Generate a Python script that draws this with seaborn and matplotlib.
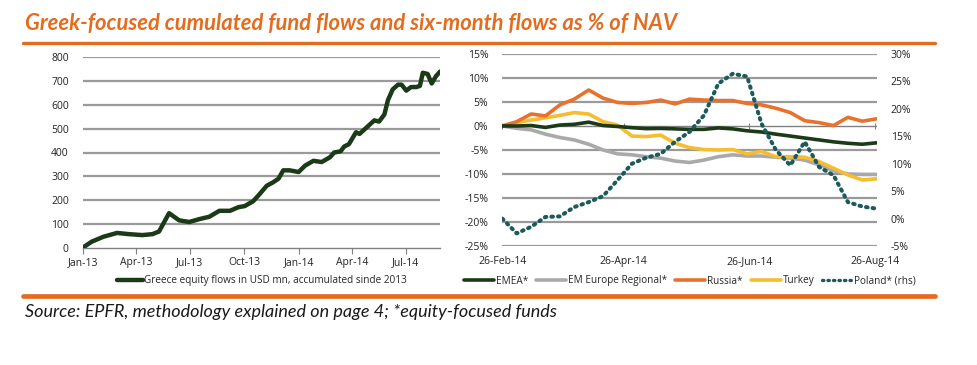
import numpy as np
import pandas as pd
import matplotlib
matplotlib.use("Agg")
import matplotlib.pyplot as plt
import matplotlib.dates as mdates
from matplotlib.lines import Line2D
import seaborn as sns

# ---------------- data ----------------
greece_dates = ["2013-01-01", "2013-01-16", "2013-02-05", "2013-02-28", "2013-03-20", "2013-04-12",
                "2013-04-29", "2013-05-10", "2013-05-27", "2013-06-13", "2013-06-30", "2013-07-17",
                "2013-08-03", "2013-08-20", "2013-09-07", "2013-09-21", "2013-10-02", "2013-10-16",
                "2013-10-27", "2013-11-08", "2013-11-19", "2013-11-28", "2013-12-06", "2013-12-17",
                "2014-01-01", "2014-01-12", "2014-01-26", "2014-02-09", "2014-02-23", "2014-03-02",
                "2014-03-13", "2014-03-19", "2014-03-27", "2014-04-08", "2014-04-14", "2014-04-28",
                "2014-05-09", "2014-05-17", "2014-05-26", "2014-06-01", "2014-06-09", "2014-06-18",
                "2014-06-24", "2014-07-02", "2014-07-10", "2014-07-19", "2014-07-25", "2014-07-30",
                "2014-08-07", "2014-08-14", "2014-08-21", "2014-08-28"]
greece_flows = [0, 25, 46, 62, 57, 53, 57, 68, 145, 115, 108, 120,
                130, 155, 155, 170, 175, 195, 225, 260, 275, 290, 325, 325,
                318, 345, 365, 360, 380, 400, 405, 425, 435, 485, 478, 510,
                535, 530, 560, 620, 665, 685, 685, 660, 675, 675, 680, 735,
                730, 690, 720, 740]

week_dates = pd.date_range("2014-02-26", periods=27, freq="7D")
emea = [0, 0, 0.1, -0.3, 0.2, 0.35, 0.8, 0.1, -0.1, -0.35, -0.55, -0.5, -0.6, -0.7,
        -0.7, -0.4, -0.6, -1.0, -1.25, -1.7, -2.1, -2.5, -2.9, -3.3, -3.6, -3.8, -3.5]
em_europe = [0, -0.5, -0.8, -1.7, -2.4, -2.9, -3.8, -5.0, -5.8, -6.0, -6.4, -6.7, -7.3, -7.6,
             -7.1, -6.4, -6.0, -6.25, -6.25, -6.5, -6.7, -7.1, -8.1, -9.3, -10.0, -10.1, -10.1]
russia = [0, 0.9, 2.5, 2.1, 4.4, 5.6, 7.5, 5.8, 4.9, 4.7, 4.9, 5.4, 4.6, 5.6,
          5.4, 5.3, 5.3, 4.7, 4.4, 3.7, 2.8, 1.1, 0.7, 0.1, 1.8, 1.0, 1.5]
turkey = [0, 0.7, 1.25, 1.7, 2.2, 2.8, 2.5, 0.9, 0.2, -2.1, -2.2, -1.9, -3.6, -4.5,
          -4.9, -5.0, -4.9, -5.8, -5.3, -6.4, -6.4, -6.5, -7.4, -8.8, -10.2, -11.25, -11.0]
poland = [0, -2.7, -1.5, 0.3, 0.4, 2.1, 3.0, 4.1, 7.0, 10.0, 11.1, 11.8, 14.0, 15.8,
          18.8, 24.6, 26.4, 25.9, 17.3, 12.5, 9.7, 14.0, 9.4, 7.9, 3.0, 2.2, 1.8]

left_ticks = ["2013-01-01", "2013-04-01", "2013-07-01", "2013-10-01",
              "2014-01-01", "2014-04-01", "2014-07-01"]
right_ticks = ["2014-02-26", "2014-04-26", "2014-06-26", "2014-08-26"]

title = "Greek-focused cumulated fund flows and six-month flows as % of NAV"
source = "Source: EPFR, methodology explained on page 4; *equity-focused funds"

# ---------------- style ----------------
sns.set_theme(style="white")
plt.rcParams["font.family"] = ["Open Sans", "DejaVu Sans"]

W, H = 978, 365
fig = plt.figure(figsize=(W / 100, H / 100), dpi=100)

ORANGE = "#E46C1E"
GRID = "#9a9a9a"
C_EMEA = "#1B3A17"
C_EME = "#A9A9A9"
C_RUS = "#E8722D"
C_TUR = "#F6BD2E"
C_POL = "#1D5A5A"
TS = 7.5

def fx(px):
    return px / W

def fy(py):
    return 1 - py / H

# ---------------- left chart ----------------
axL = fig.add_axes([fx(82.7), fy(247.7), fx(440 - 82.7), (247.7 - 57.3) / H])
dfL = pd.DataFrame({"date": pd.to_datetime(greece_dates), "flows": greece_flows})
axL.set_ylim(0, 800)
axL.set_xlim(pd.Timestamp("2013-01-01"), pd.Timestamp("2014-08-28"))
axL.set_yticks(range(0, 801, 100))
for v in range(100, 801, 100):
    axL.axhline(v, color=GRID, lw=1.6, zorder=1)
sns.lineplot(data=dfL, x="date", y="flows", ax=axL, color=C_EMEA, lw=3.2, zorder=3)
axL.set_xticks(pd.to_datetime(left_ticks))
axL.xaxis.set_major_formatter(mdates.DateFormatter("%b-%y"))
for s in ["top", "right", "left"]:
    axL.spines[s].set_visible(False)
axL.spines["bottom"].set_color("#808080")
axL.spines["bottom"].set_linewidth(1.0)
axL.tick_params(axis="x", length=4, width=0.8, color="#808080", direction="out",
                labelsize=TS, pad=3, bottom=True)
axL.tick_params(axis="y", length=0, labelsize=TS, pad=10)
axL.set_xlabel("")
axL.set_ylabel("")
for lab in axL.get_xticklabels() + axL.get_yticklabels():
    lab.set_color("#222222")

fig.legend(handles=[Line2D([], [], color=C_EMEA, lw=3.2)],
           labels=["Greece equity flows in USD mn, accumulated sinde 2013"],
           loc="center", bbox_to_anchor=(fx(262), fy(281)), frameon=False,
           fontsize=7.2, handlelength=2.6, handletextpad=0.1)

# ---------------- right chart ----------------
axR = fig.add_axes([fx(502.3), fy(246), fx(876.7 - 502.3), (246 - 54) / H])
dfR = pd.DataFrame({"date": week_dates, "EMEA*": emea, "EM Europe Regional*": em_europe,
                    "Russia*": russia, "Turkey": turkey, "Poland* (rhs)": poland})
axR.set_ylim(-25, 15)
axR.set_xlim(pd.Timestamp("2014-02-26"), pd.Timestamp("2014-08-27"))
axR.set_yticks(range(-25, 16, 5))
for v in range(-25, 16, 5):
    if v != 0:
        axR.axhline(v, color=GRID, lw=1.6, zorder=1)
axR.axhline(0, color="#808080", lw=1.0, zorder=1)
tick_dates = pd.to_datetime(right_ticks)
axR.plot(tick_dates, [0] * len(tick_dates), ls="none", marker="|", ms=5,
         mew=0.8, color="#808080", zorder=1)

sns.lineplot(data=dfR, x="date", y="EM Europe Regional*", ax=axR, color=C_EME, lw=2.6, zorder=3)
sns.lineplot(data=dfR, x="date", y="Turkey", ax=axR, color=C_TUR, lw=2.6, zorder=4)
sns.lineplot(data=dfR, x="date", y="Russia*", ax=axR, color=C_RUS, lw=2.6, zorder=4)
sns.lineplot(data=dfR, x="date", y="EMEA*", ax=axR, color=C_EMEA, lw=2.6, zorder=5)
axR.set_xticks(tick_dates)
axR.xaxis.set_major_formatter(mdates.DateFormatter("%d-%b-%y"))
axR.yaxis.set_major_formatter(matplotlib.ticker.FuncFormatter(lambda v, p: f"{v:.0f}%"))
for s in ["top", "right", "left", "bottom"]:
    axR.spines[s].set_visible(False)
axR.tick_params(axis="x", length=0, labelsize=TS, pad=7)
axR.tick_params(axis="y", length=0, labelsize=TS, pad=10)
axR.set_xlabel("")
axR.set_ylabel("")

axR2 = axR.twinx()
axR2.set_ylim(-5, 30)
axR2.set_yticks(range(-5, 31, 5))
sns.lineplot(data=dfR, x="date", y="Poland* (rhs)", ax=axR2, color=C_POL, lw=2.9,
             ls=(0, (0.4, 1.25)), zorder=6)
axR2.lines[-1].set_dash_capstyle("round")
axR2.yaxis.set_major_formatter(matplotlib.ticker.FuncFormatter(lambda v, p: f"{v:.0f}%"))
for s in ["top", "right", "left", "bottom"]:
    axR2.spines[s].set_visible(False)
axR2.tick_params(axis="y", length=0, labelsize=TS, pad=10, right=True, labelright=True)
axR2.set_ylabel("")
for lab in axR.get_xticklabels() + axR.get_yticklabels() + axR2.get_yticklabels():
    lab.set_color("#222222")

handles = [Line2D([], [], color=C_EMEA, lw=2.6),
           Line2D([], [], color=C_EME, lw=2.6),
           Line2D([], [], color=C_RUS, lw=2.6),
           Line2D([], [], color=C_TUR, lw=2.6),
           Line2D([], [], color=C_POL, lw=2.4, ls=(0, (0.4, 1.25)), dash_capstyle="round")]
fig.legend(handles=handles,
           labels=["EMEA*", "EM Europe Regional*", "Russia*", "Turkey", "Poland* (rhs)"],
           loc="center", bbox_to_anchor=(fx(690), fy(281)), frameon=False, ncol=5,
           fontsize=7.2, handlelength=3.0, handletextpad=0.2, columnspacing=0.8)

# ---------------- title, rules, source ----------------
fig.text(fx(25), fy(30), title, color=ORANGE, fontsize=15.8, fontweight="bold",
         fontstyle="italic", family=["Lato", "DejaVu Sans"], ha="left", va="baseline")
fig.add_artist(Line2D([fx(23), fx(935)], [fy(42.5), fy(42.5)], color=ORANGE, lw=2.4))
fig.add_artist(Line2D([fx(23), fx(935)], [fy(295.5), fy(295.5)], color=ORANGE, lw=3.4))
fig.text(fx(25), fy(317), source, color="#1a1a1a", fontsize=13, fontstyle="italic",
         family=["Lato", "DejaVu Sans"], ha="left", va="baseline")

fig.savefig("out.png", dpi=100)
